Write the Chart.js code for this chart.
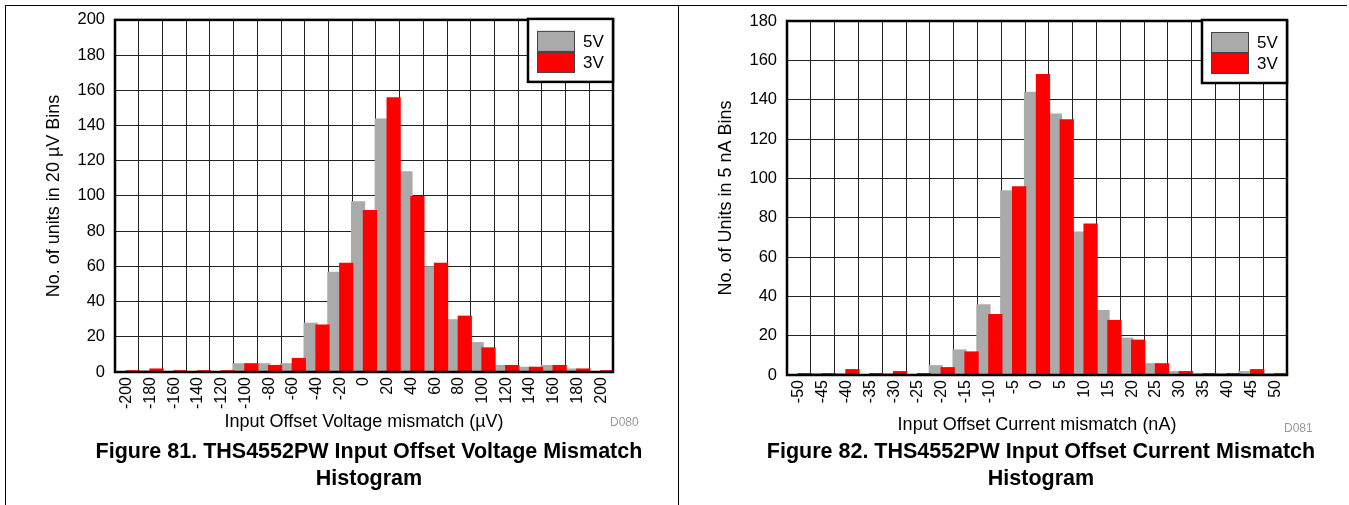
<!DOCTYPE html>
<html>
<head>
<meta charset="utf-8">
<script src="https://cdn.jsdelivr.net/npm/chart.js@4.4.1/dist/chart.umd.min.js"></script>
<style>
  body { margin: 0; background: #fff; font-family: "Liberation Sans", Arial, sans-serif; }
  #page { position: relative; width: 1349px; height: 505px; overflow: hidden; background: #fff; }
  canvas { position: absolute; top: 0; }
  .line { position: absolute; background: #000; }
  .code { position: absolute; font-size: 12px; color: #999; }
  .caption { position: absolute; top: 438px; font-weight: bold; font-size: 21.5px; line-height: 27px; text-align: center; }
</style>
</head>
<body>
<div id="page">
  <canvas id="voltChart" width="678" height="445" style="left:0"></canvas>
  <canvas id="currChart" width="671" height="445" style="left:678px"></canvas>
  <div class="line" style="left:5px;top:5px;width:1342px;height:1px"></div>
  <div class="line" style="left:5px;top:5px;width:1px;height:500px"></div>
  <div class="line" style="left:678px;top:5px;width:1px;height:500px"></div>
  <div class="code" style="left:610px;top:415px">D080</div>
  <div class="code" style="left:1284px;top:421px">D081</div>
  <div class="caption" style="left:29px;width:680px">Figure 81. THS4552PW Input Offset Voltage Mismatch<br>Histogram</div>
  <div class="caption" style="left:701px;width:680px">Figure 82. THS4552PW Input Offset Current Mismatch<br>Histogram</div>
</div>
<script>
// Data

var seriesNames = ['5V', '3V'];

var voltBins = ['-200', '-180', '-160', '-140', '-120', '-100', '-80', '-60', '-40', '-20',
                '0', '20', '40', '60', '80', '100', '120', '140', '160', '180', '200'];
var volt5V = [0, 1, 0, 0, 0, 5, 5, 5, 28, 57, 97, 144, 114, 60, 30, 17, 4, 3, 4, 2, 0];
var volt3V = [1, 2, 1, 1, 1, 5, 4, 8, 27, 62, 92, 156, 100, 62, 32, 14, 4, 3, 4, 2, 1];

var currBins = ['-50', '-45', '-40', '-35', '-30', '-25', '-20', '-15', '-10', '-5',
                '0', '5', '10', '15', '20', '25', '30', '35', '40', '45', '50'];
var curr5V = [0, 1, 1, 0, 1, 0, 5, 13, 36, 94, 144, 133, 73, 33, 19, 6, 2, 1, 1, 2, 1];
var curr3V = [1, 1, 3, 1, 2, 1, 4, 12, 31, 96, 153, 130, 77, 28, 18, 6, 2, 1, 1, 3, 1];


// Plugins

var FONT = '"Liberation Sans", Arial, sans-serif';

// draw datasets first-to-last so the red bars sit on top of the gray ones
var drawInOrder = {
    id: 'drawInOrder',
    beforeDatasetsDraw: function (chart) {
        chart.getSortedVisibleDatasetMetas().forEach(function (meta) {
            meta.controller.draw();
        });
        return false;
    }
};

// thick plot frame plus the boxed legend in the top right corner
var frameAndLegend = {
    id: 'frameAndLegend',
    afterDraw: function (chart) {
        var ctx = chart.ctx, a = chart.chartArea;
        ctx.save();
        ctx.strokeStyle = '#000';
        ctx.lineWidth = 2.5;
        ctx.strokeRect(a.left, a.top, a.right - a.left, a.bottom - a.top);

        var w = 85, h = 63, x = a.right - w, y = a.top - 1;
        ctx.fillStyle = '#fff';
        ctx.fillRect(x, y, w, h);
        ctx.strokeRect(x, y, w, h);

        ctx.font = '17px ' + FONT;
        ctx.textBaseline = 'middle';
        chart.data.datasets.forEach(function (ds, i) {
            var sy = y + 12 + i * 21;
            ctx.fillStyle = ds.backgroundColor;
            ctx.fillRect(x + 9, sy, 38, 21);
            ctx.lineWidth = 1;
            ctx.strokeStyle = '#444';
            ctx.strokeRect(x + 9.5, sy + 0.5, 37, 20);
            ctx.fillStyle = '#000';
            ctx.fillText(ds.label, x + 55, sy + 11);
        });
        ctx.restore();
    }
};


// Methods

function histogram(id, bins, s5, s3, yMax, yTitle, xTitle, box) {
    return new Chart(document.getElementById(id), {
        type: 'bar',
        data: {
            labels: bins,
            datasets: [{
                label: seriesNames[0],
                data: s5,
                backgroundColor: '#aaaaaa',
                borderWidth: 0
            }, {
                label: seriesNames[1],
                data: s3,
                backgroundColor: '#ff0000',
                borderWidth: 0
            }]
        },
        options: {
            responsive: false,
            animation: false,
            events: [],
            categoryPercentage: 1,
            barPercentage: 1.2,
            layout: {
                padding: { left: 0, top: box.top, right: box.right, bottom: 0 }
            },
            plugins: {
                legend: { display: false },
                tooltip: { enabled: false }
            },
            scales: {
                x: {
                    afterFit: function (s) { s.height = box.xh; },
                    border: { display: false },
                    grid: { color: '#222', lineWidth: 1, drawTicks: false },
                    ticks: {
                        autoSkip: false,
                        minRotation: 90,
                        maxRotation: 90,
                        padding: 5,
                        color: '#000',
                        font: { family: FONT, size: 16 }
                    },
                    title: {
                        display: true,
                        text: xTitle,
                        color: '#000',
                        padding: { top: 0, bottom: box.xtPad },
                        font: { family: FONT, size: 18 }
                    }
                },
                y: {
                    min: 0,
                    max: yMax,
                    afterFit: function (s) { s.width = box.left; },
                    border: { display: false },
                    grid: { color: '#222', lineWidth: 1, drawTicks: false },
                    ticks: {
                        stepSize: 20,
                        padding: 10,
                        color: '#000',
                        font: { family: FONT, size: 16.5 }
                    },
                    title: {
                        display: true,
                        text: yTitle,
                        color: '#000',
                        padding: { top: box.ytPad, bottom: 0 },
                        font: { family: FONT, size: 18 }
                    }
                }
            }
        },
        plugins: [drawInOrder, frameAndLegend]
    });
}


// Events

histogram('voltChart', voltBins, volt5V, volt3V, 200,
    'No. of units in 20 \u00b5V Bins', 'Input Offset Voltage mismatch (\u00b5V)',
    { left: 115, top: 18, right: 65, xh: 73, xtPad: 12, ytPad: 43 });

histogram('currChart', currBins, curr5V, curr3V, 180,
    'No. of Units in 5 nA Bins', 'Input Offset Current mismatch (nA)',
    { left: 109, top: 21, right: 62, xh: 70, xtPad: 9, ytPad: 37 });
</script>
</body>
</html>
